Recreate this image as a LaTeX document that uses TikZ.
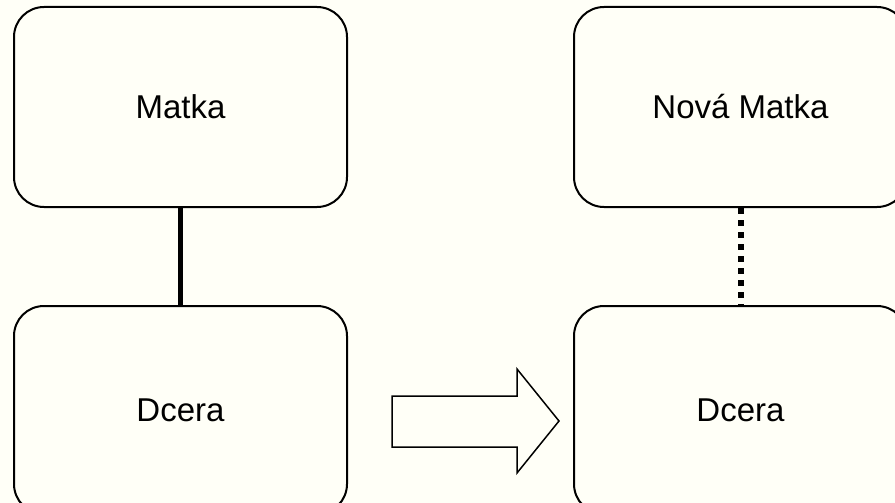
\documentclass[tikz,border=0pt]{standalone}
\usepackage{fontspec}
\setmainfont{Liberation Sans}
\definecolor{bgcol}{RGB}{255,255,247}
\begin{document}
\begin{tikzpicture}[x=1pt,y=-1pt,
  box/.style={draw, line width=2pt, rounded corners=30pt, minimum width=333pt, inner sep=0pt,
    font=\fontsize{33}{40}\selectfont},
  link/.style={line width=5.5pt},
  weak/.style={line width=6pt, dash pattern=on 6pt off 6pt}]
\fill[bgcol] (0,0) rectangle (895,503);
\useasboundingbox (0,0) rectangle (895,503);
\clip (0,0) rectangle (895,503);
\node[box, minimum height=200pt] (m) at (180.5,107) {Matka};
\node[box, minimum height=208pt] (d) at (180.5,410) {Dcera};
\node[box, minimum height=200pt] (nm) at (740.5,107) {Nová Matka};
\node[box, minimum height=208pt] (nd) at (740.5,410) {Dcera};
\draw[link] (m.south) -- (d.north);
\draw[weak] (nm.south) -- (nd.north);
\draw[line width=1.5pt, line join=miter] (392,396) -- (517,396) -- (517,369) -- (559,421) -- (517,473) -- (517,447) -- (392,447) -- cycle;
\end{tikzpicture}
\end{document}
